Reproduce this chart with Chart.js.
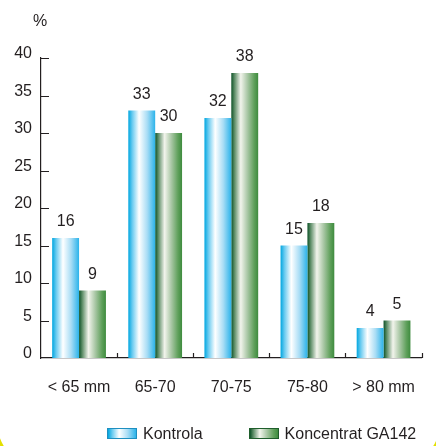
<!DOCTYPE html>
<html>
<head>
<meta charset="utf-8">
<script src="https://cdn.jsdelivr.net/npm/chart.js@4.4.1/dist/chart.umd.min.js"></script>
<style>
  html, body { margin: 0; padding: 0; background: #ffffff; }
  #wrap { position: relative; width: 436px; height: 446px; overflow: hidden; background: #ffffff; }
  #frame { position: absolute; left: -5px; right: -6px; top: -100px; bottom: -20px;
           border: 3px solid #E4E000; border-radius: 40px; pointer-events: none; }
  #plot { position: absolute; left: 0; top: 0; width: 436px; height: 446px; }
  #legend { position: absolute; left: 107px; top: 426px; height: 16px; display: flex; gap: 46px;
            font: 16px "Liberation Sans", Arial, sans-serif; color: #231F20; }
  #legend .item { display: flex; align-items: center; height: 16px; }
  #legend .box { width: 28px; height: 9px; margin-right: 6px; margin-top: -2px; }
</style>
</head>
<body>
<div id="wrap">
  <div id="frame"></div>
  <div id="plot"><canvas id="chart"></canvas></div>
  <div id="legend"></div>
</div>
<script>
// Size classes of fruit, share in percent
const categories = ['< 65 mm', '65-70', '70-75', '75-80', '> 80 mm'];
const kontrola   = [16, 33, 32, 15, 4];
const koncentrat = [9, 30, 38, 18, 5];
const yTicks     = [0, 5, 10, 15, 20, 25, 30, 35, 40];
const seriesNames = ['Kontrola', 'Koncentrat GA142'];

const TEXT = '#231F20';
const FONT = '"Liberation Sans", Arial, sans-serif';
const CAT_PCT = 0.706;

// Horizontal shading used for each bar and legend swatch
const blueStops  = [[0, '#00A6E0'], [0.15, '#6ACBF0'], [0.4, '#FFFFFF'], [0.7, '#A9DDF5'], [0.9, '#55C1EE'], [1, '#2BB3EA']];
const greenStops = [[0, '#0D5127'], [0.12, '#5E8E68'], [0.35, '#F2F4EC'], [0.6, '#A9C7A5'], [0.85, '#5FA05B'], [1, '#3E8B3E']];
const stopSets = [blueStops, greenStops];
const borderCols = ['#1E8FC0', '#1F5E2C'];

// Gradient spanning the bar's own width, placed from the category scale
function barFill(ctx) {
  const chart = ctx.chart;
  const xs = chart.scales.x;
  const stops = stopSets[ctx.datasetIndex];
  if (!xs || !chart.chartArea || ctx.dataIndex === undefined) return stops[2][1];
  const catW = (xs.right - xs.left) / categories.length;
  const full = catW * CAT_PCT;
  const center = xs.getPixelForValue(ctx.dataIndex);
  const left = center - full / 2 + ctx.datasetIndex * full / 2;
  const g = chart.ctx.createLinearGradient(left, 0, left + full / 2, 0);
  stops.forEach(([o, c]) => g.addColorStop(o, c));
  return g;
}

// Short inward tick marks on both axes
const tickMarks = {
  id: 'tickMarks',
  afterDraw(chart) {
    const { ctx, chartArea: a, scales: { x, y } } = chart;
    ctx.save();
    ctx.strokeStyle = TEXT;
    ctx.lineWidth = 1.2;
    ctx.beginPath();
    yTicks.slice(1).forEach(v => {
      const py = Math.round(y.getPixelForValue(v)) + 0.5;
      ctx.moveTo(a.left, py); ctx.lineTo(a.left + 8, py);
    });
    categories.forEach((c, i) => {
      const px = Math.round(x.getPixelForValue(i + 0.5)) + 0.5;
      ctx.moveTo(px, a.bottom); ctx.lineTo(px, a.bottom - 5);
    });
    ctx.stroke();
    ctx.restore();
  }
};

// Value above every bar plus the unit sign over the value axis
const valueLabels = {
  id: 'valueLabels',
  afterDatasetsDraw(chart) {
    const { ctx, scales: { y } } = chart;
    ctx.save();
    ctx.fillStyle = TEXT;
    ctx.font = '16px ' + FONT;
    ctx.textAlign = 'center';
    ctx.textBaseline = 'middle';
    chart.data.datasets.forEach((ds, di) => {
      chart.getDatasetMeta(di).data.forEach((el, i) => {
        ctx.fillText(String(ds.data[i]), el.x, y.getPixelForValue(ds.data[i]) - 16);
      });
    });
    ctx.fillText('%', chart.chartArea.left - 1, 22);
    ctx.restore();
  }
};

const chart = new Chart(document.getElementById('chart'), {
  type: 'bar',
  data: {
    labels: categories,
    datasets: [
      { label: seriesNames[0], data: kontrola, backgroundColor: barFill, borderWidth: 0 },
      { label: seriesNames[1], data: koncentrat, backgroundColor: barFill, borderWidth: 0 }
    ]
  },
  options: {
    responsive: true,
    maintainAspectRatio: false,
    devicePixelRatio: 1,
    animation: false,
    categoryPercentage: CAT_PCT,
    barPercentage: 1,
    layout: { padding: { top: 58, right: 11, left: 0, bottom: 38 } },
    plugins: { legend: { display: false }, tooltip: { enabled: false } },
    scales: {
      x: {
        grid: { display: false, drawTicks: false },
        border: { display: true, color: TEXT, width: 1.2 },
        ticks: { color: TEXT, font: { family: FONT, size: 16 }, padding: 20, maxRotation: 0, autoSkip: false },
        afterFit(s) { s.height = 50; }
      },
      y: {
        min: 0, max: 40,
        grid: { display: false, drawTicks: false },
        border: { display: true, color: TEXT, width: 1.2 },
        ticks: { stepSize: 5, color: TEXT, font: { family: FONT, size: 16 }, padding: 9, labelOffset: -4 },
        afterFit(s) { s.width = 41; }
      }
    }
  },
  plugins: [tickMarks, valueLabels]
});

// Legend built from the datasets
const legendEl = document.getElementById('legend');
chart.data.datasets.forEach((ds, i) => {
  const item = document.createElement('div');
  item.className = 'item';
  const box = document.createElement('span');
  box.className = 'box';
  box.style.background = 'linear-gradient(to right, ' +
    stopSets[i].map(([o, c]) => c + ' ' + (o * 100) + '%').join(', ') + ')';
  box.style.border = '1px solid ' + borderCols[i];
  const txt = document.createElement('span');
  txt.textContent = ds.label;
  item.appendChild(box);
  item.appendChild(txt);
  legendEl.appendChild(item);
});
</script>
</body>
</html>
